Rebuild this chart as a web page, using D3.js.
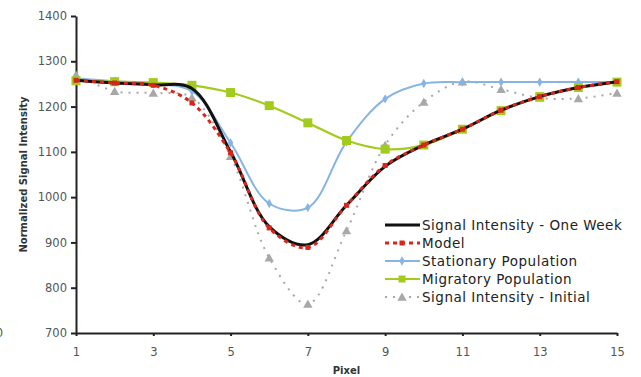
<!DOCTYPE html>
<html>
<head>
<meta charset="utf-8">
<script src="https://cdn.jsdelivr.net/npm/d3@7"></script>
<style>
  body { margin: 0; background: #fff; }
  svg { display: block; font-family: "DejaVu Sans", Verdana, sans-serif; }
</style>
</head>
<body>
<div id="chart"></div>
<script>
// values, pixel 1..15
const pixels = [1, 2, 3, 4, 5, 6, 7, 8, 9, 10, 11, 12, 13, 14, 15];
const xTicks = [1, 3, 5, 7, 9, 11, 13, 15];
const yTicks = [700, 800, 900, 1000, 1100, 1200, 1300, 1400];

const oneWeek    = [1258, 1252, 1248, 1240, 1100, 935, 895, 982, 1068, 1115, 1150, 1192, 1222, 1242, 1255];
const model      = [1258, 1252, 1247, 1208, 1098, 932, 889, 982, 1070, 1115, 1150, 1192, 1222, 1242, 1255];
const stationary = [1262, 1256, 1250, 1234, 1120, 986, 977, 1122, 1217, 1251, 1254, 1254, 1254, 1254, 1254];
const migratory  = [1257, 1255, 1253, 1247, 1231, 1202, 1164, 1125, 1106, 1115, 1150, 1191, 1222, 1242, 1254];
const initial    = [1270, 1234, 1230, 1220, 1090, 866, 764, 926, 1115, 1210, 1255, 1238, 1219, 1218, 1230];

const seriesNames = [
    "Signal Intensity - One Week",
    "Model",
    "Stationary Population",
    "Migratory Population",
    "Signal Intensity - Initial"
];

const width = 641, height = 377;
const margin = { top: 16, right: 24, bottom: 44, left: 76 };

const svg = d3.select("#chart").append("svg")
    .attr("width", width)
    .attr("height", height);

const x = d3.scaleLinear().domain([1, 15]).range([margin.left, width - margin.right]);
const y = d3.scaleLinear().domain([700, 1400]).range([height - margin.bottom, margin.top]);

// styles per series (black line, dashed red, blue, green, dotted gray)
const styles = [
    { data: oneWeek,    color: "#111111", width: 3,   dash: null,  marker: null },
    { data: model,      color: "#d9261c", width: 3,   dash: "4,4", marker: "square", size: 5 },
    { data: stationary, color: "#86b4e4", width: 2,   dash: null,  marker: "diamond", size: 6 },
    { data: migratory,  color: "#a2cb1e", width: 2.2, dash: null,  marker: "bigsquare", size: 9 },
    { data: initial,    color: "#a8a8a8", width: 2,   dash: "2,6", marker: "triangle", size: 8 }
];

// axes
const xAxis = svg.append("g")
    .attr("transform", `translate(0,${y(700)})`)
    .call(d3.axisBottom(x).tickValues(xTicks).tickSize(3).tickPadding(12).tickSizeOuter(0));
const yAxis = svg.append("g")
    .attr("transform", `translate(${x(1)},0)`)
    .call(d3.axisLeft(y).tickValues(yTicks).tickFormat(d3.format("d"))
        .tickSize(5).tickPadding(4).tickSizeOuter(0));

[xAxis, yAxis].forEach(g => {
    g.select(".domain").attr("stroke", "#222").attr("stroke-width", 2);
    g.selectAll(".tick line").attr("stroke", "#222").attr("stroke-width", 2);
    g.selectAll(".tick text")
        .attr("fill", "#555")
        .style("font-size", "11.5px")
        .style("font-family", "'DejaVu Sans', Verdana, sans-serif");
});

// axis titles
svg.append("text")
    .attr("x", (x(1) + x(15)) / 2)
    .attr("y", 374)
    .attr("text-anchor", "middle")
    .style("font-size", "10px")
    .style("font-weight", "bold")
    .attr("fill", "#333")
    .text("Pixel");

svg.append("text")
    .attr("transform", `translate(27,${(y(700) + y(1400)) / 2}) rotate(-90)`)
    .attr("text-anchor", "middle")
    .style("font-size", "10px")
    .style("font-weight", "bold")
    .attr("fill", "#333")
    .text("Normalized Signal Intensity");

// clipped fragment at left edge, as in the source picture
svg.append("text")
    .attr("x", 3)
    .attr("y", y(700) + 4)
    .attr("text-anchor", "end")
    .style("font-size", "11.5px")
    .attr("fill", "#555")
    .text("0");

const line = d3.line()
    .x((d, i) => x(pixels[i]))
    .y(d => y(d))
    .curve(d3.curveCatmullRom);

function drawMarker(g, type, cx, cy, size, color) {
    if (type === "square" || type === "bigsquare") {
        g.append("rect")
            .attr("x", cx - size / 2).attr("y", cy - size / 2)
            .attr("width", size).attr("height", size)
            .attr("fill", color);
    } else if (type === "diamond") {
        g.append("path")
            .attr("d", d3.symbol(d3.symbolDiamond, size * size * 0.7)())
            .attr("transform", `translate(${cx},${cy})`)
            .attr("fill", color);
    } else if (type === "triangle") {
        g.append("path")
            .attr("d", d3.symbol(d3.symbolTriangle, size * size * 0.6)())
            .attr("transform", `translate(${cx},${cy + 1})`)
            .attr("fill", color);
    }
}

// draw order: back to front
const order = [4, 2, 3, 0, 1];
order.forEach(k => {
    const s = styles[k];
    const g = svg.append("g");
    g.append("path")
        .datum(s.data)
        .attr("d", line)
        .attr("fill", "none")
        .attr("stroke", s.color)
        .attr("stroke-width", s.width)
        .attr("stroke-dasharray", s.dash);
    if (s.marker) {
        s.data.forEach((v, i) => drawMarker(g, s.marker, x(pixels[i]), y(v), s.size, s.color));
    }
});

// legend
const legend = svg.append("g");
legend.append("rect")
    .attr("x", 383).attr("y", 214)
    .attr("width", 258).attr("height", 93)
    .attr("fill", "#fff");

seriesNames.forEach((name, i) => {
    const s = styles[i];
    const ly = 225 + i * 18;
    const row = legend.append("g");
    row.append("line")
        .attr("x1", 385).attr("x2", 420)
        .attr("y1", ly).attr("y2", ly)
        .attr("stroke", s.color)
        .attr("stroke-width", s.width)
        .attr("stroke-dasharray", s.dash);
    if (s.marker) {
        drawMarker(row, s.marker, 402, ly, s.marker === "bigsquare" ? 7 : s.size, s.color);
    }
    row.append("text")
        .attr("x", 422)
        .attr("y", ly + 5)
        .style("font-size", "13.5px")
        .style("letter-spacing", "0.5px")
        .attr("fill", "#222")
        .text(name);
});
</script>
</body>
</html>
